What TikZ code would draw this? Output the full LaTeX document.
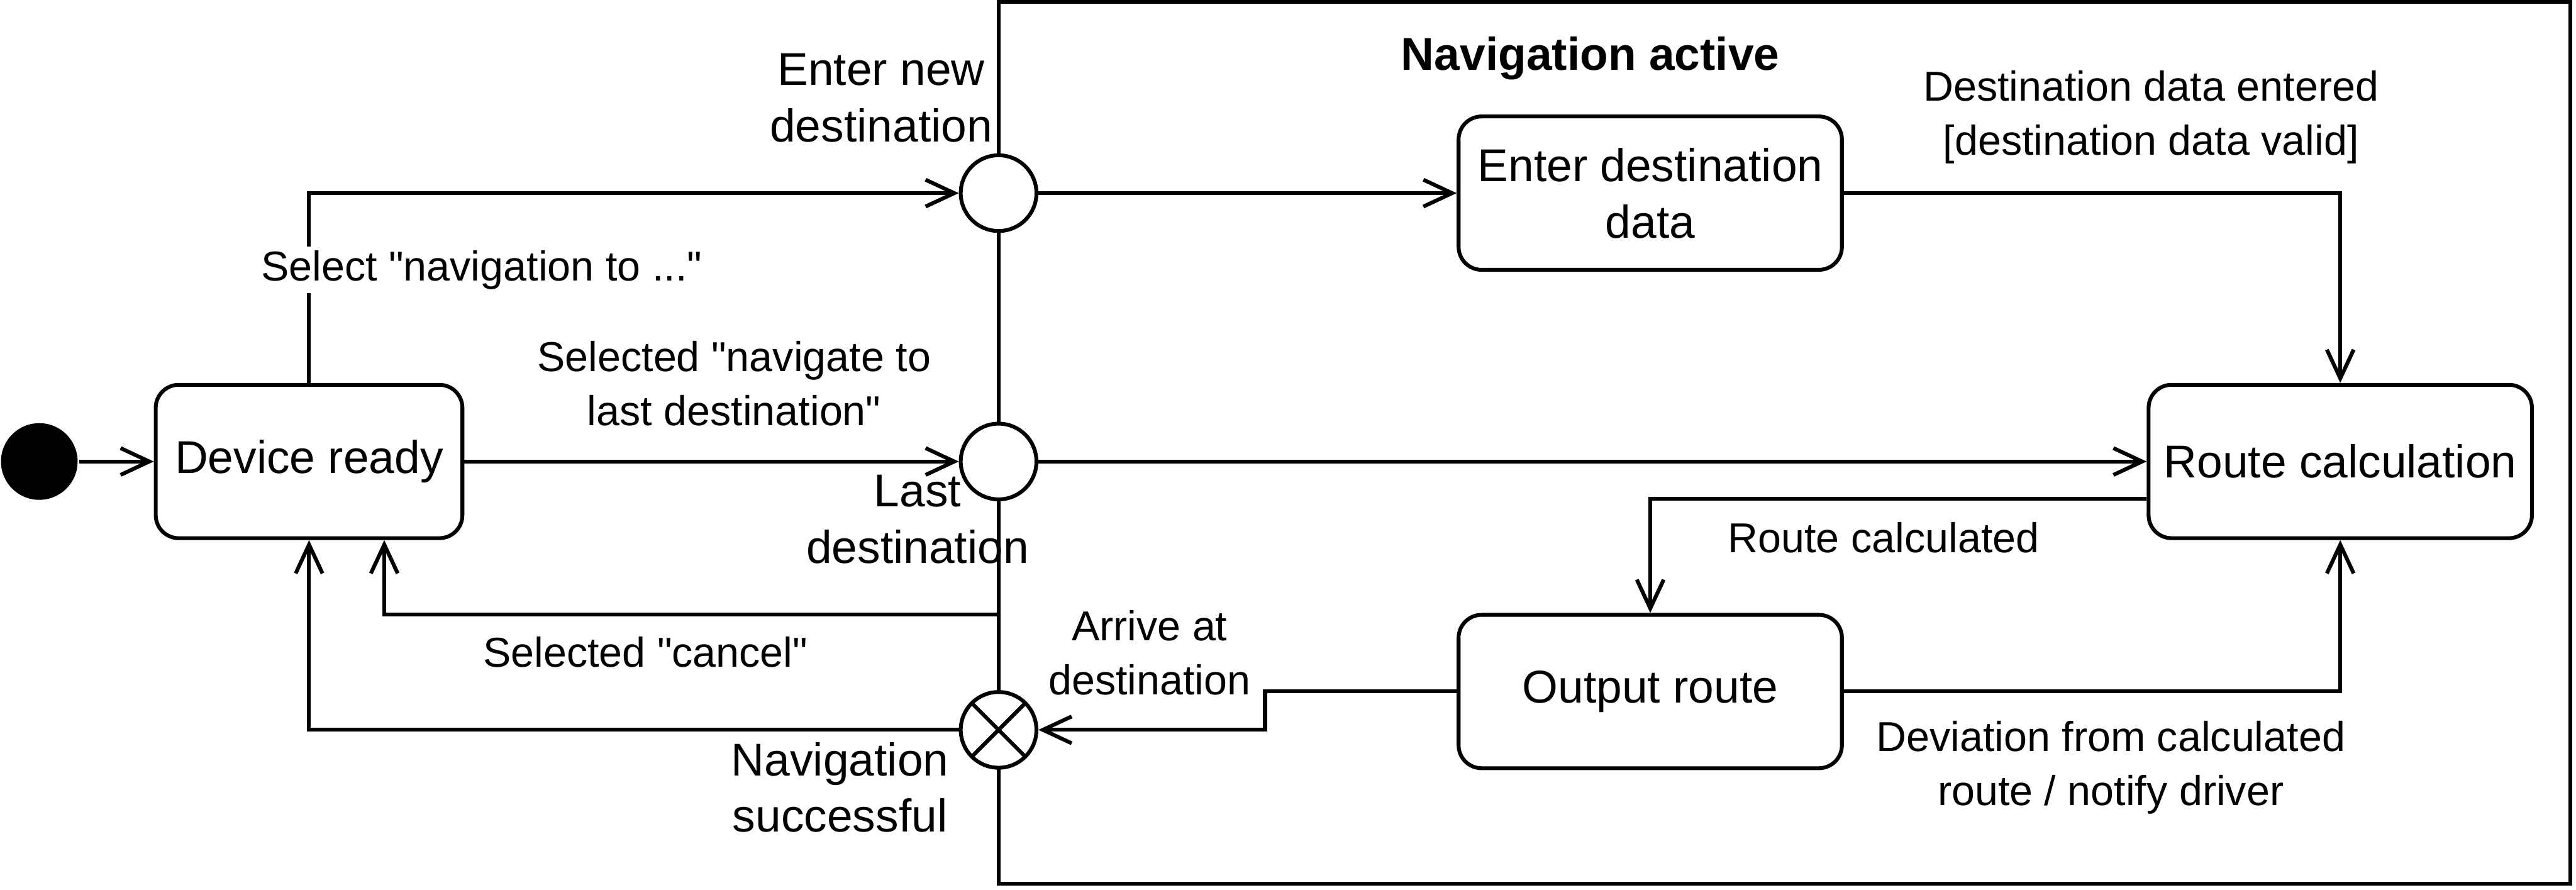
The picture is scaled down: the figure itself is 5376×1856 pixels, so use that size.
\documentclass[tikz,border=0pt]{standalone}
\usepackage{fontspec}
\setmainfont{Liberation Sans}[Ligatures=TeXOff]
\usetikzlibrary{arrows.meta,calc}
\begin{document}
\begin{tikzpicture}[x=0.25pt,y=-0.25pt,
  line width=2pt,
  state/.style={draw, rounded corners=12pt, minimum height=80pt, align=center,
    font=\fontsize{24}{29.5}\selectfont, inner sep=0pt},
  entry/.style={draw, circle, fill=white, minimum size=39.5pt, inner sep=0pt},
  lbl/.style={align=center, font=\fontsize{21.8}{28.3}\selectfont, inner sep=2pt},
  biglbl/.style={align=center, font=\fontsize{24}{29.5}\selectfont, inner sep=1pt},
  arr/.style={-{Straight Barb[length=15pt,width=14pt]}}]
\useasboundingbox (0,0) rectangle (5376,1856);

% frame of composite state
\draw (2084,3.5) rectangle (5364,1844);
\node[font=\bfseries\fontsize{24}{29.5}\selectfont] (title) at (3319,122) {Navigation active};

% nodes
\node[circle, fill=black, minimum size=40pt, inner sep=0pt] (init) at (82,963) {};
\node[state, minimum width=160pt] (dev) at (645,963) {Device ready};
\node[entry] (c1) at (2084,403) {};
\node[entry] (c2) at (2084,963) {};
\node[entry] (ex) at (2084,1523) {};
\draw ($(ex.center)+(45:19.75pt)$) -- ($(ex.center)+(225:19.75pt)$);
\draw ($(ex.center)+(135:19.75pt)$) -- ($(ex.center)+(315:19.75pt)$);
\node[state, minimum width=200pt] (enter) at (3444,403) {Enter destination\\data};
\node[state, minimum width=200pt] (route) at (4884,963) {Route calculation};
\node[state, minimum width=200pt] (out) at (3444,1443) {Output route};

\coordinate (cs) at (2084,1282);

% connectors
\draw[arr] (init) -- (dev);
\draw[arr] (dev.north) |- (c1.west);
\draw[arr] (dev.east) -- (c2.west);
\draw[arr] (cs) -| ([xshift=39.25pt]dev.south);
\draw[arr] (ex.west) -| (dev.south);
\draw[arr] (c1.east) -- (enter.west);
\draw[arr] (enter.east) -| (route.north);
\draw[arr] (c2.east) -- (route.west);
\draw[arr] ([yshift=-19.5pt]route.west) -| (out.north);
\draw[arr] (out.east) -| (route.south);
\draw[arr] (out.west) -- ++(-100pt,0) |- (ex.east);

% labels
\node[lbl, fill=white] (l1) at (1005,563) {Select "navigation to ..."};
\node[lbl] (l2) at (1532,800) {Selected "navigate to\\last destination"};
\node[lbl] (l3) at (1347,1361) {Selected "cancel"};
\node[lbl] (l4) at (4489,245) {Destination data entered\\{[destination data valid]}};
\node[lbl] (l5) at (3931,1122) {Route calculated};
\node[lbl] (l6) at (4405,1602) {Deviation from calculated\\route / notify driver};
\node[lbl] (l7) at (2399,1362) {Arrive at\\destination};
\node[biglbl] (l8) at (1839,204) {Enter new\\destination};
\node[biglbl] (l9) at (1915,1084) {Last\\destination};
\node[biglbl] (l10) at (1753,1643) {Navigation\\successful};
\end{tikzpicture}
\end{document}
